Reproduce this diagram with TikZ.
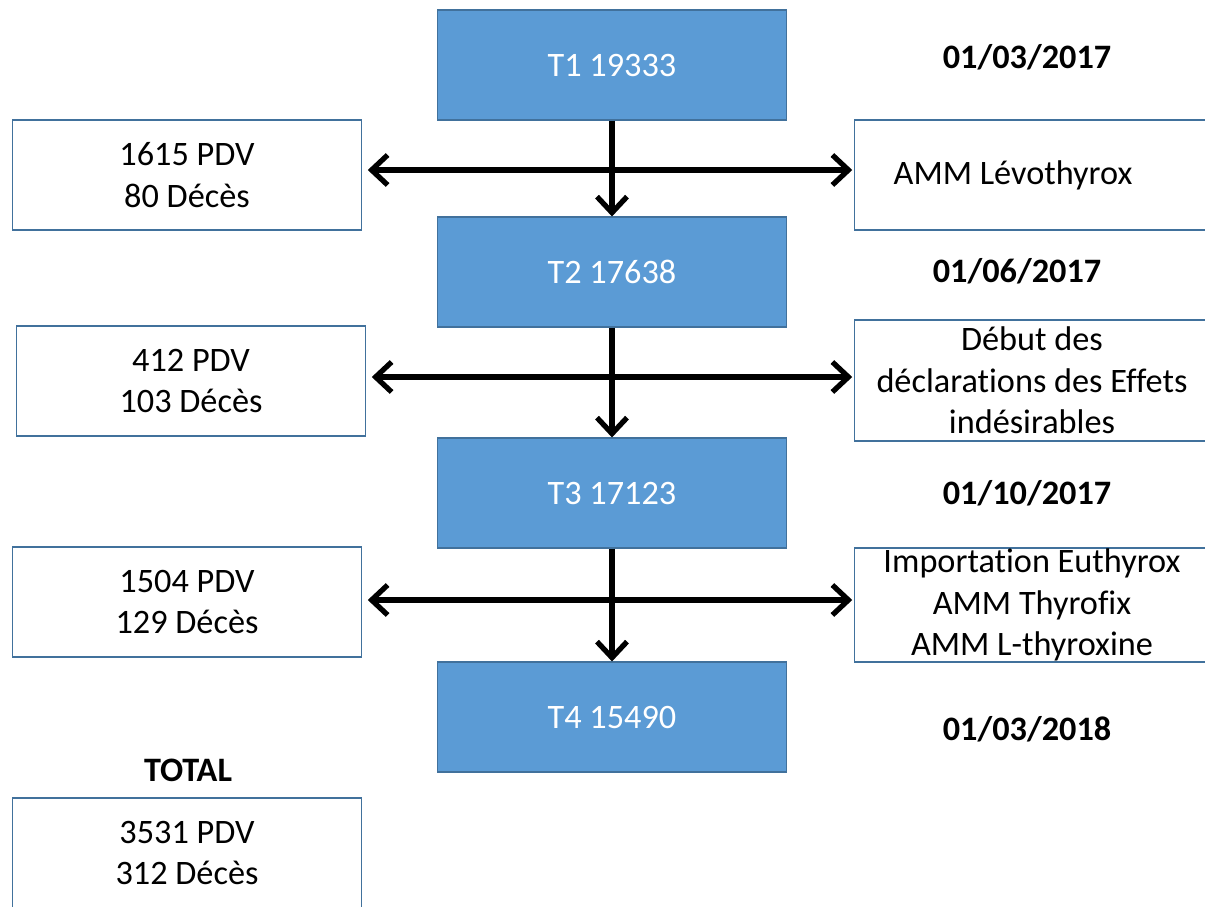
\documentclass[tikz,border=0pt]{standalone}
\usepackage{fontspec}
\setmainfont{Carlito}[RawFeature={-liga;-clig;-dlig;-calt}]
\usetikzlibrary{arrows.meta}
\definecolor{boxblue}{HTML}{5B9BD5}
\definecolor{edgeblue}{HTML}{41719C}
\begin{document}
\begin{tikzpicture}[x=0.02cm,y=-0.02cm,
        every node/.style={font=\fontsize{19.5}{23.5}\selectfont},
        tbox/.style={draw=edgeblue,fill=boxblue,text=white,line width=0.6pt,
            minimum width=7cm,minimum height=2.2cm,inner sep=0pt},
        wbox/.style={draw=edgeblue,fill=white,line width=0.6pt,align=center,
            minimum width=7cm,minimum height=2.2cm,inner sep=0pt},
        datelbl/.style={font=\fontsize{19.5}{23.5}\selectfont\bfseries},
        arr/.style={-{Straight Barb[length=0.32cm,width=0.6cm]},line width=3pt,black}]
        \useasboundingbox (0,0) rectangle (1205,907);
        \clip (0,0) rectangle (1205,907);

        %periodes
        \node[tbox] (t1) at (612,65) {T1 19333};
        \node[tbox] (t2) at (612,272) {T2 17638};
        \node[tbox] (t3) at (612,493) {T3 17123};
        \node[tbox] (t4) at (612,717) {T4 15490};

        %dates
        \node[datelbl] (d1) at (1027,57) {01/03/2017};
        \node[datelbl] (d2) at (1017,271) {01/06/2017};
        \node[datelbl] (d3) at (1027,493) {01/10/2017};
        \node[datelbl] (d4) at (1027,729) {01/03/2018};

        %PDV et deces
        \node[wbox] (l1) at (187,175) {1615 PDV\\80 Décès};
        \node[wbox] (l2) at (191,381) {412 PDV\\103 Décès};
        \node[wbox] (l3) at (187,602) {1504 PDV\\129 Décès};
        \node[datelbl] (tot) at (188,770) {TOTAL};
        \node[wbox] (l4) at (187,853) {3531 PDV\\312 Décès};

        %evenements
        \node[wbox,minimum width=7.1cm] (r1) at (1032,175) {AMM Lévothyrox\hspace*{0.76cm}};
        \node[wbox,minimum width=7.1cm,minimum height=2.42cm] (r2) at (1032,380.5)
            {Début des\\déclarations des Effets\\indésirables};
        \node[wbox,minimum width=7.1cm,minimum height=2.28cm] (r3) at (1032,605)
            {Importation Euthyrox\\AMM Thyrofix\\AMM L-thyroxine};

        %fleches
        \coordinate (j1) at (612,170);
        \coordinate (j2) at (612,377);
        \coordinate (j3) at (612,600);
        \draw[arr] (t1) -- (t2);
        \draw[arr] (t2) -- (t3);
        \draw[arr] (t3) -- (t4);
        \draw[arr,shorten >=3pt] (j1) -- (l1.east |- j1);
        \draw[arr,shorten >=1pt] (j1) -- (r1.west |- j1);
        \draw[arr,shorten >=3pt] (j2) -- (l2.east |- j2);
        \draw[arr,shorten >=1pt] (j2) -- (r2.west |- j2);
        \draw[arr,shorten >=3pt] (j3) -- (l3.east |- j3);
        \draw[arr,shorten >=1pt] (j3) -- (r3.west |- j3);

\end{tikzpicture}
\end{document}
